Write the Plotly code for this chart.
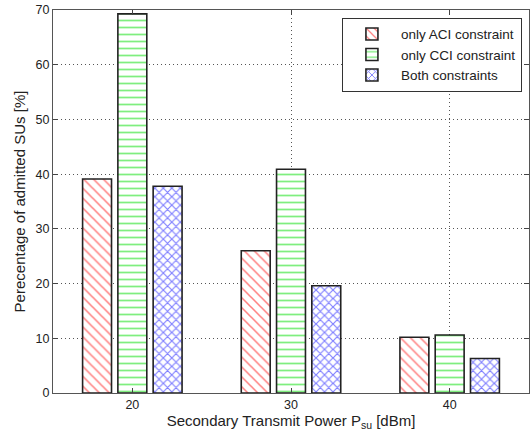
import plotly.graph_objects as go

power_dbm = [20, 30, 40]
aci_only = [39.1, 26.0, 10.2]
cci_only = [69.3, 40.9, 10.6]
both = [37.8, 19.6, 6.3]
series_names = ["only ACI constraint", "only CCI constraint", "Both constraints"]

fig = go.Figure()
specs = [
    (aci_only, "\\", "#ff0000", 7, 0.22),
    (cci_only, "-", "#00dd00", 7, 0.25),
    (both, "x", "#0000ff", 6, 0.35),
]
for name, (vals, shape, col, size, sol) in zip(series_names, specs):
    fig.add_trace(go.Bar(
        x=power_dbm, y=vals, name=name,
        marker=dict(color="white",
                    pattern=dict(shape=shape, fgcolor=col, bgcolor="white", size=size, solidity=sol),
                    line=dict(color="#222222", width=1.6)),
    ))

font = dict(family="Liberation Sans, Arial, sans-serif", size=12.5, color="#222222")
fig.update_layout(
    width=530, height=434,
    margin=dict(l=53, r=1, t=10, b=41, autoexpand=False),
    paper_bgcolor="white", plot_bgcolor="white",
    barmode="group", bargap=0.333, bargroupgap=0.18,
    font=font,
    showlegend=True,
    legend=dict(x=0.607, y=0.98, xanchor="left", yanchor="top",
                bordercolor="#333333", borderwidth=1, bgcolor="white",
                font=dict(family=font["family"], size=13.5, color="#222222"),
                tracegroupgap=0, itemwidth=48),
    xaxis=dict(range=[15, 45], tickvals=[20, 30, 40], ticks="inside", ticklen=5,
               showline=True, linecolor="#555555", mirror="ticks", linewidth=1,
               showgrid=True, gridcolor="#555555", griddash="1px,3px", gridwidth=1,
               zeroline=False, automargin=False,
               title=dict(text="Secondary Transmit Power P<sub>su</sub> [dBm]", standoff=4)),
    yaxis=dict(range=[0, 70], tickvals=list(range(0, 71, 10)), ticks="inside", ticklen=5,
               showline=True, linecolor="#555555", mirror="ticks", linewidth=1,
               showgrid=True, gridcolor="#555555", griddash="1px,3px", gridwidth=1,
               zeroline=False, automargin=False,
               title=dict(text="Perecentage of admitted SUs [%]", standoff=6)),
)
fig.write_html("out.html", config={"displayModeBar": False},
               post_script="document.body.style.margin='0';")
